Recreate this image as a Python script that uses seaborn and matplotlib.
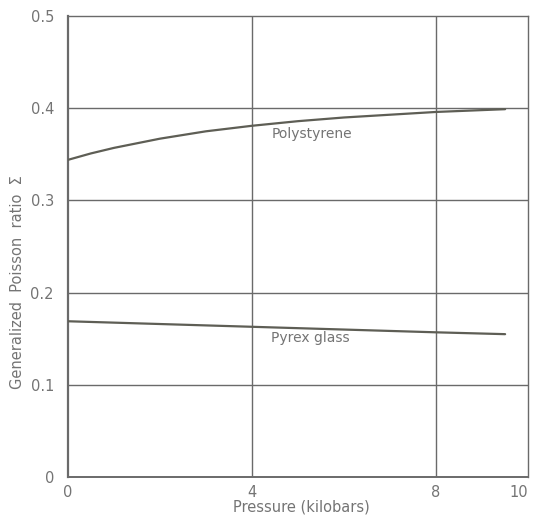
import matplotlib
matplotlib.use("Agg")
import matplotlib.pyplot as plt
import seaborn as sns
import pandas as pd

# Data
poly_x = [0, 0.5, 1, 2, 3, 4, 5, 6, 7, 8, 9, 9.5]
poly_y = [0.344, 0.351, 0.357, 0.367, 0.375, 0.381, 0.386, 0.390, 0.393, 0.396, 0.398, 0.399]
pyrex_x = [0, 2, 4, 6, 8, 9.5]
pyrex_y = [0.169, 0.166, 0.163, 0.160, 0.157, 0.155]

x_ticks = [0, 4, 8, 10]
x_ticklabels = ["0", "4", "8", "10"]
y_ticks = [0, 0.1, 0.2, 0.3, 0.4, 0.5]
y_ticklabels = ["0", "0.1", "0.2", "0.3", "0.4", "0.5"]

df = pd.DataFrame({
    "Pressure": poly_x + pyrex_x,
    "Sigma": poly_y + pyrex_y,
    "Material": ["Polystyrene"] * len(poly_x) + ["Pyrex glass"] * len(pyrex_x),
})

sns.set_style("white")
plt.rcParams["font.family"] = ["DejaVu Sans"]

fig = plt.figure(figsize=(5.34, 5.18), dpi=100)
ax = fig.add_axes([0.127, 0.079, 0.862, 0.890])

grid_col = "#6a6a6a"
text_col = "#747474"
curve_col = "#5e5e55"

for yv in [0.1, 0.2, 0.3, 0.4]:
    ax.axhline(yv, color=grid_col, lw=1.0, zorder=1)
for xv in [4, 8]:
    ax.axvline(xv, color=grid_col, lw=1.0, zorder=1)

sns.lineplot(data=df, x="Pressure", y="Sigma", hue="Material",
             palette={"Polystyrene": curve_col, "Pyrex glass": curve_col},
             legend=False, lw=1.6, ax=ax, zorder=3, estimator=None, sort=True)

ax.set_xlim(0, 10)
ax.set_ylim(0, 0.5)
ax.set_xticks(x_ticks)
ax.set_xticklabels(x_ticklabels)
ax.set_yticks(y_ticks)
ax.set_yticklabels(y_ticklabels)
ax.tick_params(axis="both", length=0, labelsize=10.5, colors=text_col)
ax.tick_params(axis="y", pad=10)
ax.tick_params(axis="x", pad=6)
ax.get_xticklabels()[-1].set_horizontalalignment("right")
ax.get_xticklabels()[-1].set_x(10.12)

for side, sp in ax.spines.items():
    sp.set_color(grid_col)
    sp.set_linewidth(1.0)
ax.spines["left"].set_linewidth(1.6)
ax.spines["bottom"].set_linewidth(1.4)

ax.set_xlabel("")
ax.set_ylabel("")
fig.text(301 / 534, 1 - 507 / 518, "Pressure (kilobars)", fontsize=10.5,
         color=text_col, ha="center", va="center")
fig.text(18 / 534, 1 - 282 / 518, "Generalized  Poisson  ratio  Σ", fontsize=10.5,
         color=text_col, ha="center", va="center", rotation=90)

ax.text(4.42, 0.372, "Polystyrene", fontsize=10, color=text_col, va="center", ha="left")
ax.text(4.42, 0.151, "Pyrex glass", fontsize=10, color=text_col, va="center", ha="left")

fig.savefig("out.png", dpi=100, facecolor="white")
